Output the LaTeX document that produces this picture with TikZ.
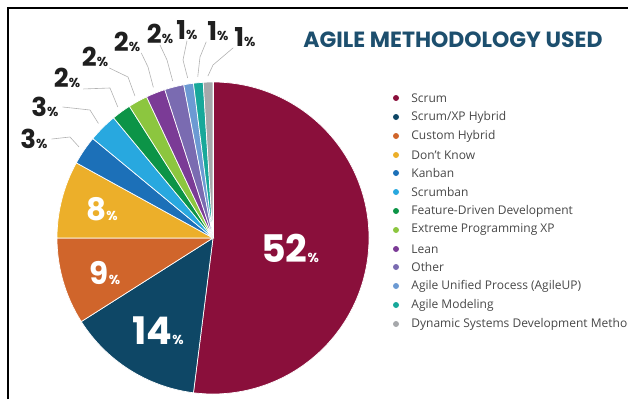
\documentclass[tikz,border=0pt]{standalone}
\usepackage{fontspec}
\setmainfont{Open Sans}
\newfontfamily\numfont{Poppins}
\usetikzlibrary{positioning}
\definecolor{scrumred}{HTML}{8A0F3B}
\definecolor{hybridblue}{HTML}{0E4766}
\definecolor{customorange}{HTML}{D0652B}
\definecolor{dontknowyellow}{HTML}{ECAF2A}
\definecolor{kanbanblue}{HTML}{1C70B8}
\definecolor{scrumbanblue}{HTML}{28A8DF}
\definecolor{fddgreen}{HTML}{0C9447}
\definecolor{xpgreen}{HTML}{8CC63F}
\definecolor{leanpurple}{HTML}{7B3B96}
\definecolor{otherlilac}{HTML}{7A6BB1}
\definecolor{agileupblue}{HTML}{6C9AD3}
\definecolor{modelingteal}{HTML}{17A89A}
\definecolor{dsdmgray}{HTML}{A6A8AB}
\definecolor{titleblue}{HTML}{1D4F6E}

\begin{document}
\begin{tikzpicture}[x=1pt,y=1pt]
  \tikzstyle{slice}=[draw=white,line width=0.7pt]
  \tikzstyle{inlabel}=[text=white,inner sep=0pt]
  \tikzstyle{outlabel}=[text=black!88,inner sep=1pt,
                        font=\numfont\bfseries\fontsize{26}{26}\selectfont]
  \tikzstyle{leader}=[draw=black!30,line width=0.6pt]
  \tikzstyle{dot}=[circle,inner sep=0pt,minimum size=6pt]
  \tikzstyle{legtext}=[anchor=west,text=black!72,inner sep=0pt,
                       font=\fontsize{12}{12}\selectfont]
  \newcommand{\pct}{{\fontsize{13}{13}\selectfont\%}}
  \useasboundingbox (0,0) rectangle (628,-399);
  \draw[line width=1.2pt] (8,-399) -- (8,-8) -- (628,-8);
  \node[text=titleblue,font=\numfont\bfseries\fontsize{22}{22}\selectfont] (title)
    at (453,-40) {AGILE METHODOLOGY USED};

  % the pie, clockwise from the top
  \begin{scope}[shift={(213,-238)}]
    \coordinate (c) at (0,0);
    \fill[slice,fill=scrumred]       (c) -- (90:156) arc (90:-97.2:156) -- cycle;
    \fill[slice,fill=hybridblue]     (c) -- (-97.2:156) arc (-97.2:-147.6:156) -- cycle;
    \fill[slice,fill=customorange]   (c) -- (-147.6:156) arc (-147.6:-180:156) -- cycle;
    \fill[slice,fill=dontknowyellow] (c) -- (-180:156) arc (-180:-208.8:156) -- cycle;
    \fill[slice,fill=kanbanblue]     (c) -- (-208.8:156) arc (-208.8:-219.6:156) -- cycle;
    \fill[slice,fill=scrumbanblue]   (c) -- (-219.6:156) arc (-219.6:-230.4:156) -- cycle;
    \fill[slice,fill=fddgreen]       (c) -- (-230.4:156) arc (-230.4:-237.6:156) -- cycle;
    \fill[slice,fill=xpgreen]        (c) -- (-237.6:156) arc (-237.6:-244.8:156) -- cycle;
    \fill[slice,fill=leanpurple]     (c) -- (-244.8:156) arc (-244.8:-252:156) -- cycle;
    \fill[slice,fill=otherlilac]     (c) -- (-252:156) arc (-252:-259.2:156) -- cycle;
    \fill[slice,fill=agileupblue]    (c) -- (-259.2:156) arc (-259.2:-262.8:156) -- cycle;
    \fill[slice,fill=modelingteal]   (c) -- (-262.8:156) arc (-262.8:-266.4:156) -- cycle;
    \fill[slice,fill=dsdmgray]       (c) -- (-266.4:156) arc (-266.4:-270:156) -- cycle;
    \draw[slice] (c) -- (90:156);
    % where the leaders end
    \coordinate (kanbanpt)   at (145.8:162);
    \coordinate (scrumbanpt) at (135:162);
    \coordinate (fddpt)      at (126:162);
    \coordinate (xppt)       at (118.8:162);
    \coordinate (leanpt)     at (111.6:162);
    \coordinate (otherpt)    at (104.4:162);
    \coordinate (agileuppt)  at (99:162);
    \coordinate (modelingpt) at (95.4:162);
    \coordinate (dsdmpt)     at (91.8:162);
  \end{scope}

  % labels inside the pie
  \node[inlabel,font=\numfont\bfseries\fontsize{38}{38}\selectfont] (lblscrum)
    at (290,-248) {52\pct};
  \node[inlabel,font=\numfont\bfseries\fontsize{38}{38}\selectfont] (lblhybrid)
    at (158,-331) {14\pct};
  \node[inlabel,font=\numfont\bfseries\fontsize{31}{31}\selectfont] (lblcustom)
    at (105,-273) {9\pct};
  \node[inlabel,font=\numfont\bfseries\fontsize{31}{31}\selectfont] (lbldontknow)
    at (102,-209) {8\pct};

  % labels round the pie
  \node[outlabel] (lblkanban)   at (34,-139) {3\pct};
  \node[outlabel] (lblscrumban) at (45,-107) {3\pct};
  \node[outlabel] (lblfdd)      at (67,-78)  {2\pct};
  \node[outlabel] (lblxp)       at (95,-57)  {2\pct};
  \node[outlabel] (lbllean)     at (127,-42) {2\pct};
  \node[outlabel] (lblother)    at (160,-34) {2\pct};
  \node[outlabel] (lblagileup)  at (187,-30) {1\pct};
  \node[outlabel] (lblmodeling) at (218,-31) {1\pct};
  \node[outlabel] (lbldsdm)     at (245,-37) {1\pct};
  \draw[leader] ([xshift=3pt]lblkanban.east) -- (70,-137) -- (kanbanpt);
  \draw[leader] ([xshift=3pt]lblscrumban.east) -- (90,-110) -- (scrumbanpt);
  \draw[leader] ([xshift=2pt]lblfdd.south east) -- (110,-88) -- (fddpt);
  \draw[leader] (lblxp.south east) -- (128,-77) -- (xppt);
  \draw[leader] (lbllean.south east) -- (148,-67) -- (leanpt);
  \draw[leader] (lblother.south) -- (167,-60) -- (otherpt);
  \draw[leader] (lblagileup.south) -- (183,-60) -- (agileuppt);
  \draw[leader] (lblmodeling.south west) -- (200,-57) -- (modelingpt);
  \draw[leader] (lbldsdm.south west) -- (213,-65) -- (dsdmpt);

  % legend
  \node[dot,fill=scrumred]       (dotscrum)    at (396,-98)  {};
  \node[dot,fill=hybridblue]     (dothybrid)   at (396,-117) {};
  \node[dot,fill=customorange]   (dotcustom)   at (396,-136) {};
  \node[dot,fill=dontknowyellow] (dotdontknow) at (396,-155) {};
  \node[dot,fill=kanbanblue]     (dotkanban)   at (396,-173) {};
  \node[dot,fill=scrumbanblue]   (dotscrumban) at (396,-192) {};
  \node[dot,fill=fddgreen]       (dotfdd)      at (396,-211) {};
  \node[dot,fill=xpgreen]        (dotxp)       at (396,-230) {};
  \node[dot,fill=leanpurple]     (dotlean)     at (396,-249) {};
  \node[dot,fill=otherlilac]     (dotother)    at (396,-267) {};
  \node[dot,fill=agileupblue]    (dotagileup)  at (396,-286) {};
  \node[dot,fill=modelingteal]   (dotmodeling) at (396,-305) {};
  \node[dot,fill=dsdmgray]       (dotdsdm)     at (396,-324) {};
  \node[legtext] (legscrum)    [right=12pt of dotscrum]    {Scrum};
  \node[legtext] (leghybrid)   [right=12pt of dothybrid]   {Scrum/XP Hybrid};
  \node[legtext] (legcustom)   [right=12pt of dotcustom]   {Custom Hybrid};
  \node[legtext] (legdontknow) [right=12pt of dotdontknow] {Don't Know};
  \node[legtext] (legkanban)   [right=12pt of dotkanban]   {Kanban};
  \node[legtext] (legscrumban) [right=12pt of dotscrumban] {Scrumban};
  \node[legtext] (legfdd)      [right=12pt of dotfdd]      {Feature-Driven Development};
  \node[legtext] (legxp)       [right=12pt of dotxp]       {Extreme Programming XP};
  \node[legtext] (leglean)     [right=12pt of dotlean]     {Lean};
  \node[legtext] (legother)    [right=12pt of dotother]    {Other};
  \node[legtext] (legagileup)  [right=12pt of dotagileup]  {Agile Unified Process (AgileUP)};
  \node[legtext] (legmodeling) [right=12pt of dotmodeling] {Agile Modeling};
  \node[legtext] (legdsdm)     [right=12pt of dotdsdm]     {Dynamic Systems Development Method};
\end{tikzpicture}
\end{document}
